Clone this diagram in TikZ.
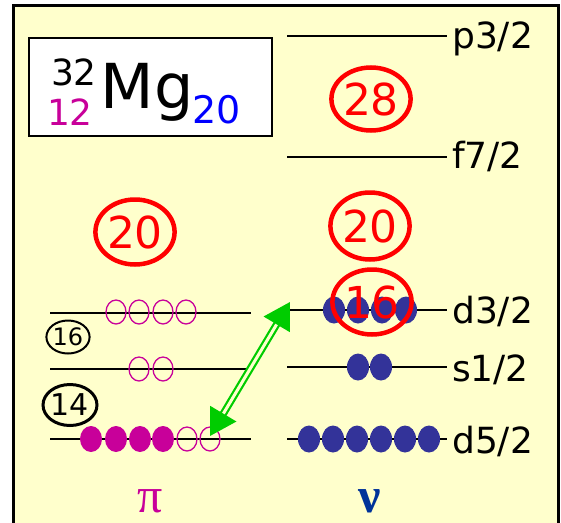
\documentclass[tikz,border=0pt]{standalone}
\usepackage{fontspec}
\setmainfont{DejaVu Sans}
\newfontfamily\greekfont{Liberation Serif}
\usetikzlibrary{shapes.geometric,arrows.meta}
\definecolor{bgyellow}{HTML}{FFFFCC}
\definecolor{pimag}{HTML}{C8009A}
\definecolor{nublue}{HTML}{333399}
\definecolor{nutext}{HTML}{003399}
\definecolor{arrgreen}{HTML}{00CC00}
\begin{document}
\begin{tikzpicture}[x=1pt,y=-1pt,
  level/.style={line width=1.5pt, draw=black},
  lvlabel/.style={anchor=base west, inner sep=0pt, font=\fontsize{36}{36}\selectfont},
  magic/.style={ellipse, draw=red, line width=4.5pt, text=red, inner sep=0pt, font=\fontsize{44}{44}\selectfont},
  submagic/.style={ellipse, draw=black, inner sep=0pt},
  popen/.style={ellipse, draw=pimag, line width=1.3pt, minimum width=20pt, minimum height=24pt, inner sep=0pt},
  pfull/.style={ellipse, fill=pimag, minimum width=22pt, minimum height=26pt, inner sep=0pt},
  nfull/.style={ellipse, fill=nublue, minimum width=22pt, minimum height=27pt, inner sep=0pt},
  txt/.style={anchor=base, inner sep=0pt},
  pair/.style={draw=arrgreen, line width=2.2pt, double=bgyellow, double distance=3pt,
    {Triangle[length=26pt,width=30pt]}-{Triangle[length=26pt,width=30pt]}}
]
\useasboundingbox (0,0) rectangle (561,522);
\clip (0,0) rectangle (561,522);
% frame
\fill[bgyellow] (13,5) rectangle (558,540);
\draw[line width=3pt] (13,540) -- (13,5) -- (558,5) -- (558,540);

% Mg box
\node[draw, fill=white, line width=1.5pt, minimum width=243pt, minimum height=98pt, anchor=north west, inner sep=0pt] (mgbox) at (28,37) {};
\node[txt, font=\fontsize{36}{36}\selectfont] (mass) at (74,85) {32};
\node[txt, font=\fontsize{36}{36}\selectfont, text=pimag] (zz) at (70,125) {12};
\node[txt, font=\fontsize{62}{62}\selectfont] (mg) at (147,108) {Mg};
\node[txt, font=\fontsize{38}{38}\selectfont, text=blue] (nn) at (217,123) {20};

% neutron levels
\coordinate (np3l) at (287,36);  \coordinate (np3r) at (447,36);
\coordinate (nf7l) at (287,157); \coordinate (nf7r) at (447,157);
\coordinate (nd3l) at (287,310); \coordinate (nd3r) at (447,310);
\coordinate (ns1l) at (287,367); \coordinate (ns1r) at (447,367);
\coordinate (nd5l) at (287,439); \coordinate (nd5r) at (447,439);
\draw[level] (np3l) -- (np3r);
\draw[level] (nf7l) -- (nf7r);
\draw[level] (nd3l) -- (nd3r);
\draw[level] (ns1l) -- (ns1r);
\draw[level] (nd5l) -- (nd5r);
\node[lvlabel] (lp3) at (452,48) {p3/2};
\node[lvlabel] (lf7) at (452,168) {f7/2};
\node[lvlabel] (ld3) at (452,323) {d3/2};
\node[lvlabel] (ls1) at (452,381) {s1/2};
\node[lvlabel] (ld5) at (452,453) {d5/2};

% proton levels
\coordinate (pd3l) at (50,313); \coordinate (pd3r) at (251,313);
\coordinate (ps1l) at (50,369); \coordinate (ps1r) at (251,369);
\coordinate (pd5l) at (50,439); \coordinate (pd5r) at (251,439);
\draw[level] (pd3l) -- (pd3r);
\draw[level] (ps1l) -- (ps1r);
\draw[level] (pd5l) -- (pd5r);

% protons
\foreach \x [count=\i] in {116,139,163,186} \node[popen] (pa\i) at (\x,312) {};
\foreach \x [count=\i] in {139,163} \node[popen] (pb\i) at (\x,369) {};
\foreach \x [count=\i] in {91,116,140,163} \node[pfull] (pc\i) at (\x,439) {};
\foreach \x [count=\i] in {187,210} \node[popen] (pd\i) at (\x,439) {};

% neutrons
\foreach \x [count=\i] in {334,358,382,406} \node[nfull] (na\i) at (\x,310) {};
\foreach \x [count=\i] in {358,381} \node[nfull] (nb\i) at (\x,367) {};
\foreach \x [count=\i] in {309,333,357,381,405,429} \node[nfull] (nc\i) at (\x,439) {};

% magic numbers
\node[magic, minimum width=71pt, minimum height=63pt] (m28) at (371,99) {28};
\node[magic, minimum width=73pt, minimum height=65pt] (m20p) at (135,232) {20};
\node[magic, minimum width=73pt, minimum height=67pt] (m20n) at (370,226) {20};
\node[magic, minimum width=72pt, minimum height=65pt] (m16n) at (372,302) {16};
\node[submagic, line width=2pt, minimum width=34pt, minimum height=33pt, font=\fontsize{24}{24}\selectfont] (s16) at (68,337) {16};
\node[submagic, line width=3pt, minimum width=43pt, minimum height=41pt, font=\fontsize{30}{30}\selectfont] (s14) at (70,405) {14};

% excitation arrow
\coordinate (atop) at (290,302);
\coordinate (abot) at (210,436);
\draw[pair] (abot) -- (atop);

% pi / nu
\node[txt, font=\greekfont\fontsize{50}{50}\selectfont, text=pimag] (pi) at (150,512) {π};
\node[txt, font=\greekfont\bfseries\fontsize{50}{50}\selectfont, text=nutext] (nu) at (370,512) {ν};
\end{tikzpicture}
\end{document}
